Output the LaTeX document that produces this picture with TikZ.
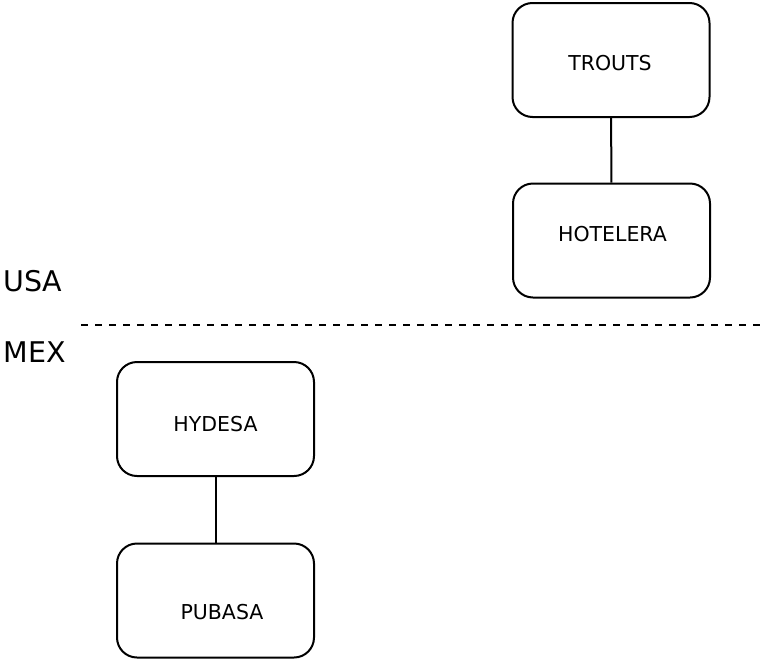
\documentclass[tikz,border=0pt]{standalone}
\usepackage{fontspec}
\setmainfont{DejaVu Sans}
\usetikzlibrary{positioning}

\begin{document}
\begin{tikzpicture}[
    x=1pt, y=-1pt,
    company/.style={draw=black, line width=2pt, rounded corners=20pt,
                    minimum width=197pt, minimum height=114pt, inner sep=0pt},
    compname/.style={font=\fontsize{20.5}{24}\selectfont, inner sep=0pt},
    country/.style={font=\fontsize{28.5}{34}\selectfont, inner sep=0pt, anchor=west},
    link/.style={line width=2pt},
    border/.style={line width=2pt, dash pattern=on 7pt off 7pt}
  ]
  \useasboundingbox (0,0) rectangle (762,659);

  % Nodes – USA side
  \node[company, label={[compname, xshift=-1pt, yshift=-3.5pt]center:TROUTS}] (trouts) at (611,60) {};
  \node[company, label={[compname, xshift=1pt, yshift=6.5pt]center:HOTELERA}] (hotelera) at (611.5,240.5) {};

  % Nodes – MEX side
  \node[company, label={[compname, yshift=-5.5pt]center:HYDESA}] (hydesa) at (215.5,419) {};
  \node[company, label={[compname, xshift=6.5pt, yshift=-12pt]center:PUBASA}] (pubasa) at (215.5,600.5) {};

  % Country labels and border
  \node[country] (usa) at (3,281.5) {USA};
  \node[country] (mex) at (3.5,352) {MEX};
  \coordinate (borderW) at (81,325);
  \coordinate (borderE) at (762,325);
  \draw[border] (borderW) -- (borderE);

  % Links
  \draw[link] (trouts) -- (hotelera);
  \draw[link] (hydesa) -- (pubasa);
\end{tikzpicture}
\end{document}
